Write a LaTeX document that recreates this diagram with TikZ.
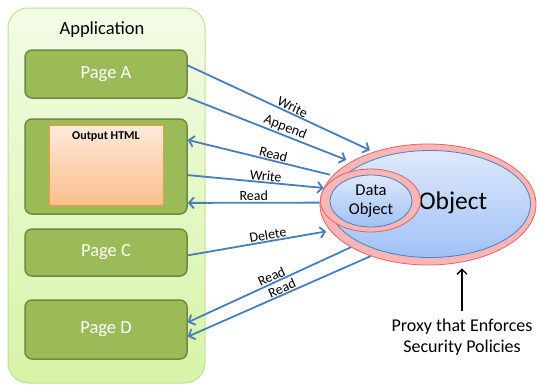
\documentclass[tikz,border=0pt]{standalone}
\usepackage{fontspec}
\setmainfont{Carlito}
\usetikzlibrary{arrows.meta,positioning,shapes.geometric}

\definecolor{apptop}{RGB}{243,251,230}
\definecolor{appbot}{RGB}{214,244,166}
\definecolor{appedge}{RGB}{196,222,150}
\definecolor{pagegreen}{RGB}{155,187,89}
\definecolor{pageedge}{RGB}{113,137,63}
\definecolor{htmltop}{RGB}{253,234,218}
\definecolor{htmlbot}{RGB}{250,190,140}
\definecolor{htmledge}{RGB}{247,150,70}
\definecolor{flowblue}{RGB}{74,126,187}
\definecolor{ringpink}{RGB}{250,182,182}
\definecolor{ringedge}{RGB}{222,100,100}
\definecolor{coretop}{RGB}{222,233,251}
\definecolor{corebot}{RGB}{160,193,246}
\definecolor{coreedge}{RGB}{79,129,189}

\tikzset{
  appbox/.style={draw=appedge, line width=1pt, top color=apptop, bottom color=appbot,
    rounded corners=20pt, minimum width=197pt, minimum height=375pt, inner sep=0pt},
  page/.style={draw=pageedge, fill=pagegreen, line width=1.5pt, rounded corners=7pt,
    minimum width=162pt, inner sep=0pt, text=white, font=\fontsize{18.5}{22}\selectfont},
  htmlbox/.style={draw=htmledge, line width=1pt, top color=htmltop, bottom color=htmlbot,
    minimum width=114pt, minimum height=80pt, inner sep=0pt},
  ring/.style={ellipse, draw=ringedge, fill=ringpink, line width=0.8pt, inner sep=0pt},
  core/.style={ellipse, draw=coreedge, top color=coretop, bottom color=corebot,
    line width=0.8pt, inner sep=0pt},
  flow/.style={draw=flowblue, line width=1.8pt, -{Straight Barb[length=5pt,width=11pt]}},
  lbl/.style={sloped, above, inner sep=0.8pt, font=\fontsize{14}{16}\selectfont},
  pointer/.style={draw=black, line width=1.3pt, -{Straight Barb[length=5pt,width=10pt]}},
}

\begin{document}
\begin{tikzpicture}[x=1pt,y=-1pt]
\useasboundingbox (0,0) rectangle (540,386);

% application side
\node[appbox] (app) at (106.5,195.5) {};
\node[font=\fontsize{18.5}{22}\selectfont] (apptitle) at (102,30) {Application};

\node[page, minimum height=48pt] (pageA) at (106,74) {Page A};
\node[page, minimum height=95pt] (out) at (106,166.5) {};
\node[htmlbox] (html) at (106,165) {};
\node[font=\bfseries\fontsize{12}{14}\selectfont, below=3.5pt of html.north] (htmltitle) {Output HTML};
\node[page, minimum height=47pt] (pageC) at (106,252.5) {Page C};
\node[page, minimum height=59pt] (pageD) at (106,329.5) {Page D};

% object and its proxy
\node[ring, minimum width=216pt, minimum height=121pt] (proxy) at (428,204.5) {};
\node[core, minimum width=201pt, minimum height=107pt] (obj) at (430,204) {};
\node[font=\fontsize{25.5}{30}\selectfont] (objtxt) at (453,203) {Object};
\node[ring, minimum width=100pt, minimum height=63pt] (dproxy) at (370.5,200.5) {};
\node[core, minimum width=82pt, minimum height=52pt, align=center,
  font=\fontsize{16.5}{19.5}\selectfont] (dobj) at (371,201) {Data\\Object};

% accesses
\draw[flow, shorten >=4pt] (pageA.6) -- node[lbl, pos=.55] {Write} (proxy.136);
\draw[flow, shorten >=5pt] (pageA.-16) -- node[lbl, pos=.58] {Append} (proxy.151);
\draw[flow, shorten <=3pt] (proxy.163) -- node[lbl, pos=.42] {Read} (out.18);
\draw[flow] (out.-6) -- node[lbl, pos=.57] {Write} (proxy.171);
\draw[flow] (proxy.179) -- node[lbl] {Read} (out.-24);
\draw[flow, shorten >=4pt] (pageC.-2) -- node[lbl, pos=.57] {Delete} (proxy.195);
\draw[flow] (proxy.209) -- node[lbl, pos=.47] {Read} (pageD.5);
\draw[flow] (proxy.222) -- node[lbl, pos=.47] {Read} (pageD.-5);

% note
\node[align=center, font=\fontsize{18}{21.5}\selectfont] (note) at (462,337)
  {Proxy that Enforces\\Security Policies};
\draw[pointer, shorten >=3pt, shorten <=4pt] (note.north) -- (note.north |- proxy.south);
\end{tikzpicture}
\end{document}
